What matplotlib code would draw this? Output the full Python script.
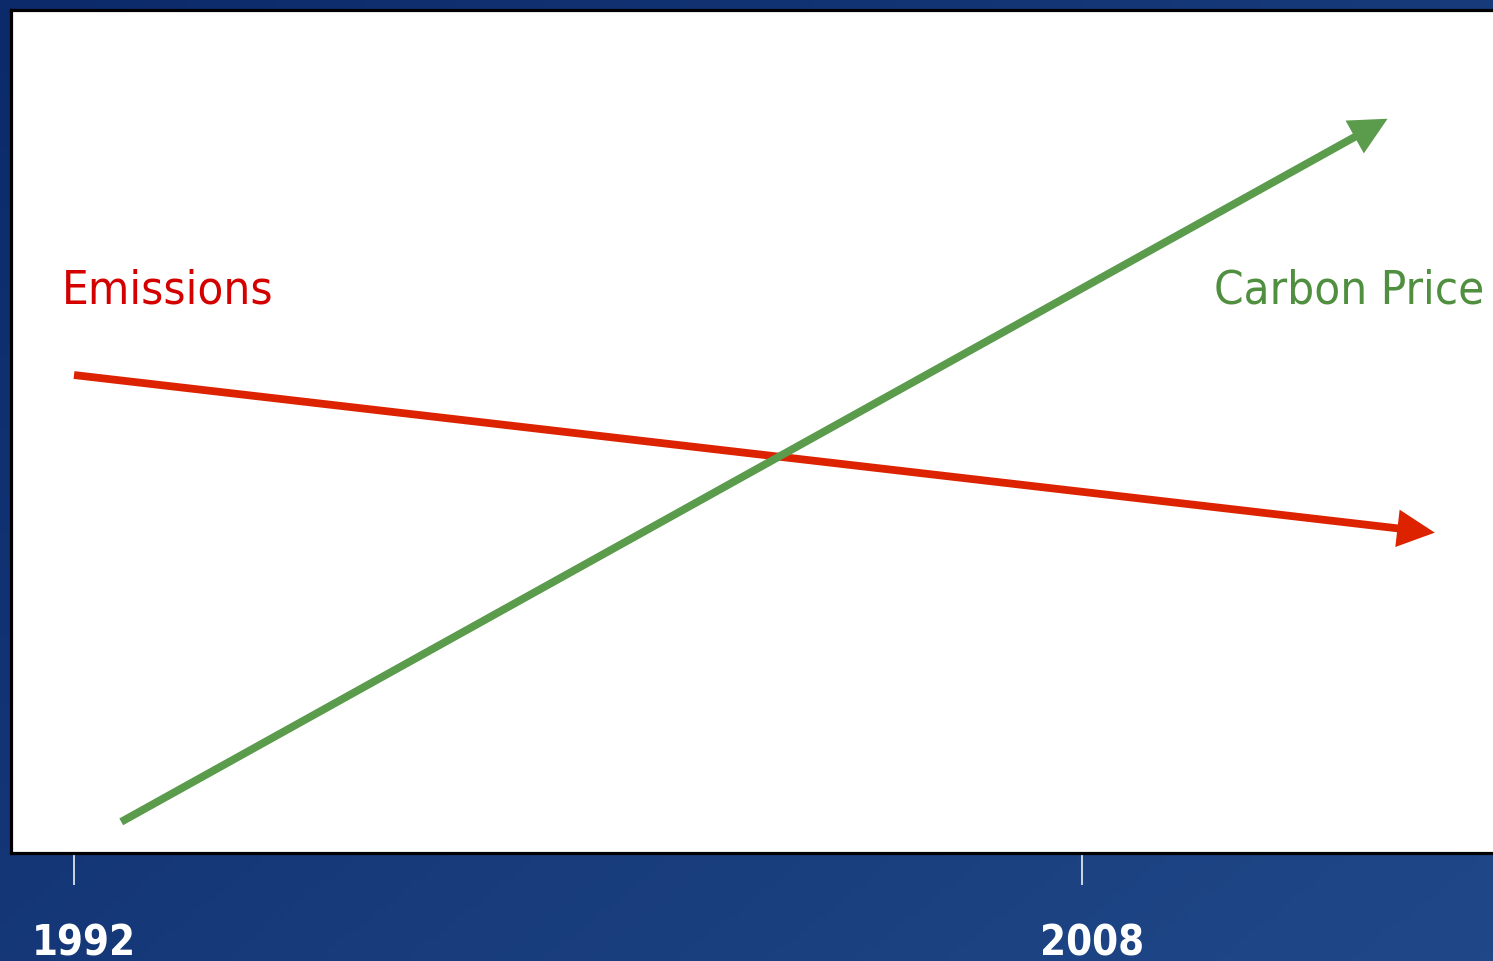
import numpy as np
import matplotlib

matplotlib.use("Agg")
import matplotlib.pyplot as plt
from matplotlib.patches import FancyArrowPatch
from matplotlib.transforms import ScaledTranslation

# data (years on x, arbitrary index 0-100 on y)
years = [1992, 2008]
emissions_x = [1992.0, 2013.6]
emissions_y = [56.7, 38.0]
carbon_x = [1992.75, 2012.85]
carbon_y = [3.7, 87.1]
series_labels = ["Emissions", "Carbon Price"]

RED_LINE = "#dd2200"
RED_TEXT = "#d40000"
GREEN_LINE = "#5b9b4c"
GREEN_TEXT = "#4f8f3f"

W, H, DPI = 1493, 961, 100
fig = plt.figure(figsize=(W / DPI, H / DPI), dpi=DPI)

# blue slide background
bg = fig.add_axes([0, 0, 1, 1])
gx, gy = np.meshgrid(np.linspace(0, 1, 200), np.linspace(0, 1, 130))
shade = 0.55 * gx + 0.45 * gy
c0 = np.array([0x0c, 0x2a, 0x6a]) / 255
c1 = np.array([0x20, 0x48, 0x88]) / 255
img = c0 + (c1 - c0) * shade[..., None]
bg.imshow(img, extent=[0, 1, 0, 1], aspect="auto", origin="upper")
bg.axis("off")

# white panel
left, top, bottom = 11 / W, 10 / H, 853 / H
ax = fig.add_axes([left, 1 - bottom, 1.02 - left, bottom - top])
ax.set_facecolor("white")
px_per_year = 63.0
ax.set_xlim(1992 - 63 / px_per_year, 1992 + (W * 1.02 - 74) / px_per_year)
ax.set_ylim(0, 100)
for side in ["left", "top", "bottom", "right"]:
    ax.spines[side].set_linewidth(2.3)
    ax.spines[side].set_color("black")
ax.set_yticks([])

ax.set_xticks(years)
ax.set_xticklabels([str(y) for y in years])
ax.tick_params(axis="x", direction="out", length=23, width=1.1, color="white",
               pad=27, labelcolor="white", labelsize=30)
for lab in ax.get_xticklabels():
    lab.set_fontweight("bold")
    lab.set_fontstretch("condensed")
    lab.set_transform(lab.get_transform() + ScaledTranslation(10 / DPI, 0, fig.dpi_scale_trans))

for xs, ys, col in [(emissions_x, emissions_y, RED_LINE), (carbon_x, carbon_y, GREEN_LINE)]:
    arrow = FancyArrowPatch((xs[0], ys[0]), (xs[1], ys[1]),
                            arrowstyle="-|>,head_length=18,head_width=9",
                            mutation_scale=1, linewidth=5.6, color=col,
                            shrinkA=0, shrinkB=0, capstyle="butt", joinstyle="miter")
    ax.add_patch(arrow)

ax.text(1991.81, 65.2, series_labels[0], color=RED_TEXT, fontsize=34,
        fontstretch="condensed", ha="left", va="baseline")
ax.text(2010.1, 65.2, series_labels[1], color=GREEN_TEXT, fontsize=34,
        fontstretch="condensed", ha="left", va="baseline")

fig.savefig("out.png", dpi=DPI)
